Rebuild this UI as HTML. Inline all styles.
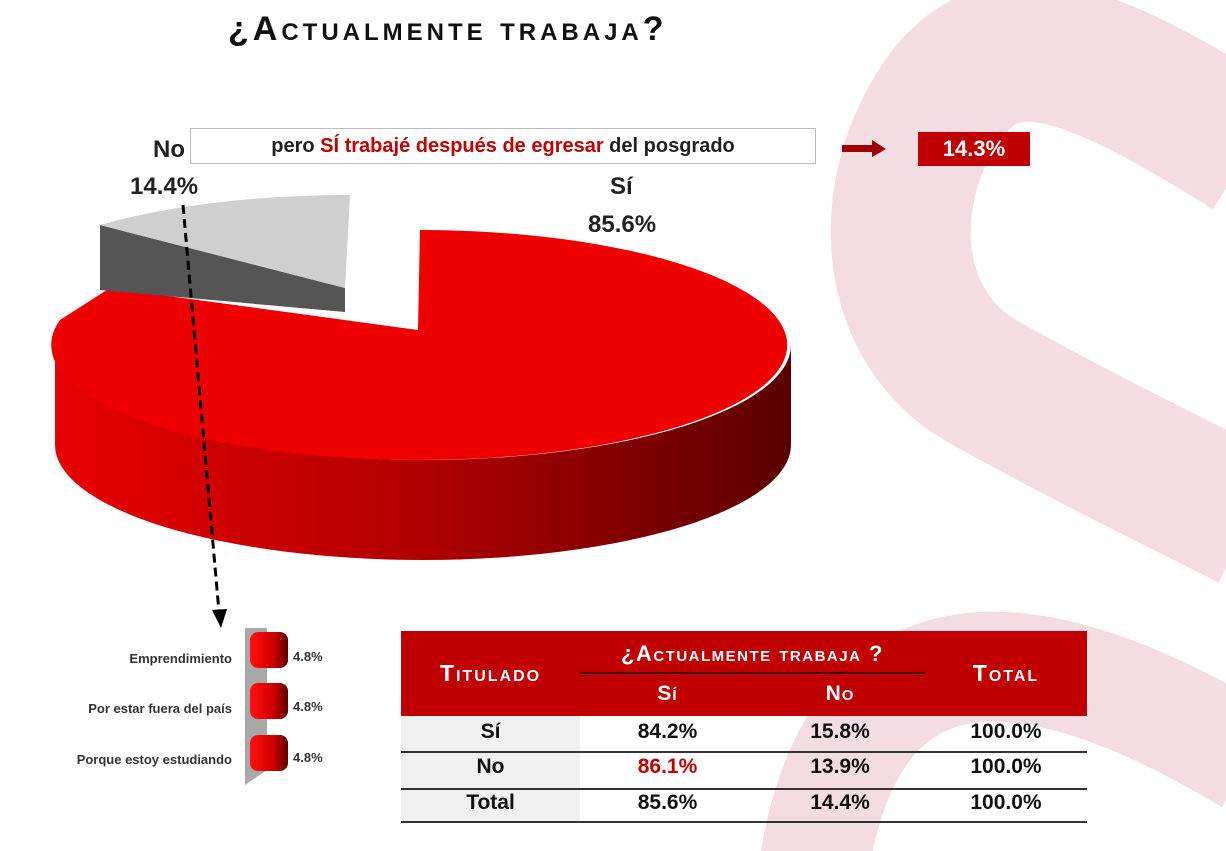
<!DOCTYPE html>
<html><head><meta charset="utf-8"><style>
body{margin:0;width:1226px;height:851px;overflow:hidden;background:#fff;font-family:"Liberation Sans",sans-serif;position:relative}
.a{position:absolute;white-space:nowrap}
.sc{font-variant:small-caps;font-weight:bold;letter-spacing:1px}
</style></head><body>
<svg class="a" style="left:0;top:0" width="1226" height="851">
<defs>
<linearGradient id="side" x1="0" x2="1"><stop offset="0" stop-color="#e80000"/><stop offset="0.5" stop-color="#b00000"/><stop offset="1" stop-color="#5a0000"/></linearGradient>
<linearGradient id="cyl" x1="0" x2="1"><stop offset="0" stop-color="#ff1010"/><stop offset="0.6" stop-color="#d00000"/><stop offset="1" stop-color="#600000"/></linearGradient>
</defs>
<g fill="none" stroke="#f4dde2" stroke-linecap="butt">
<path d="M1250 150 C1090 50 1010 20 950 90 C880 180 880 320 980 380 C1060 425 1150 470 1250 520" stroke-width="140"/>
<path d="M1250 760 C1050 640 860 600 815 860" stroke-width="110"/>
</g>
<path d="M55 345 A368 115 0 0 0 791 345 L791 445 A368 115 0 0 1 55 445 Z" fill="url(#side)"/>
<path d="M418 330 L420 230 A368 115 0 1 1 60 320 L110 288 Z" fill="#ee0000"/>
<path d="M100 225 L100 290 L345 312 L345 288 Z" fill="#555"/>
<path d="M345 288 L350 195 A368 115 0 0 0 100 225 Z" fill="#cfcfcf"/>
<line x1="183" y1="205" x2="219" y2="612" stroke="#000" stroke-width="3" stroke-dasharray="9,5"/>
<polygon points="212,610 227,609 221,628" fill="#000"/>
<polygon points="842,145 872,145 872,140 886,149 872,157 872,152 842,152" fill="#a00000"/>
<polygon points="245,628 267,628 267,770 245,785" fill="#a8a8a8"/>
<g fill="url(#cyl)">
<rect x="250" y="632" width="38" height="36" rx="8"/>
<rect x="250" y="683" width="38" height="36" rx="8"/>
<rect x="250" y="735" width="38" height="36" rx="8"/>
</g>
</svg>
<div class="a sc" style="left:228px;top:10px;font-size:34px;letter-spacing:4px;color:#111">¿Actualmente trabaja?</div>
<div class="a" style="left:190px;top:128px;width:624px;height:34px;border:1px solid #bbb;background:#fff;font-weight:bold;font-size:20px;line-height:34px;text-align:center;color:#222">pero <span style="color:#c00000">SÍ trabajé después de egresar</span> del posgrado</div>
<div class="a" style="left:153px;top:136px;font-size:24px;font-weight:bold;color:#222">No</div>
<div class="a" style="left:130px;top:173px;font-size:24px;font-weight:bold;color:#222">14.4%</div>
<div class="a" style="left:610px;top:173px;font-size:24px;font-weight:bold;color:#222">Sí</div>
<div class="a" style="left:588px;top:211px;font-size:24px;font-weight:bold;color:#222">85.6%</div>
<div class="a" style="left:918px;top:132px;width:112px;height:34px;background:#c00000;color:#fff;font-weight:bold;font-size:22px;line-height:34px;text-align:center">14.3%</div>
<div class="a" style="left:0;top:651px;width:232px;text-align:right;font-size:13px;font-weight:bold;color:#333">Emprendimiento</div>
<div class="a" style="left:0;top:701px;width:232px;text-align:right;font-size:13px;font-weight:bold;color:#333">Por estar fuera del país</div>
<div class="a" style="left:0;top:752px;width:232px;text-align:right;font-size:13px;font-weight:bold;color:#333">Porque estoy estudiando</div>
<div class="a" style="left:293px;top:649px;font-size:13px;font-weight:bold;color:#333">4.8%</div>
<div class="a" style="left:293px;top:699px;font-size:13px;font-weight:bold;color:#333">4.8%</div>
<div class="a" style="left:293px;top:750px;font-size:13px;font-weight:bold;color:#333">4.8%</div>
<div class="a" style="left:401px;top:631px;width:686px;height:85px;background:#c00000"></div>
<div class="a sc" style="left:401px;top:660px;width:179px;text-align:center;color:#fff;font-size:23px;letter-spacing:2px">Titulado</div>
<div class="a sc" style="left:925px;top:660px;width:162px;text-align:center;color:#fff;font-size:23px;letter-spacing:2px">Total</div>
<div class="a sc" style="left:580px;top:641px;width:345px;text-align:center;color:#fff;font-size:22px;letter-spacing:1.5px">¿Actualmente trabaja ?</div>
<div class="a" style="left:580px;top:672px;width:345px;height:2px;background:#400"></div>
<div class="a sc" style="left:580px;top:682px;width:175px;text-align:center;color:#fff;font-size:21px">Sí</div>
<div class="a sc" style="left:755px;top:682px;width:170px;text-align:center;color:#fff;font-size:21px">No</div>
<div class="a" style="left:401px;top:716px;width:179px;height:106px;background:#f0f0f0"></div>
<div class="a" style="left:401px;top:751px;width:686px;height:2px;background:#333"></div>
<div class="a" style="left:401px;top:788px;width:686px;height:2px;background:#333"></div>
<div class="a" style="left:401px;top:821px;width:686px;height:2px;background:#333"></div>
<div style="position:absolute;left:401px;top:720px;width:686px;font-size:21px;font-weight:bold;color:#111">
<div style="display:flex;height:35px"><div style="width:179px;text-align:center">Sí</div><div style="width:175px;text-align:center">84.2%</div><div style="width:170px;text-align:center">15.8%</div><div style="width:162px;text-align:center">100.0%</div></div>
<div style="display:flex;height:36px"><div style="width:179px;text-align:center">No</div><div style="width:175px;text-align:center;color:#c00000">86.1%</div><div style="width:170px;text-align:center">13.9%</div><div style="width:162px;text-align:center">100.0%</div></div>
<div style="display:flex;height:34px"><div style="width:179px;text-align:center">Total</div><div style="width:175px;text-align:center">85.6%</div><div style="width:170px;text-align:center">14.4%</div><div style="width:162px;text-align:center">100.0%</div></div>
</div>
</body></html>
